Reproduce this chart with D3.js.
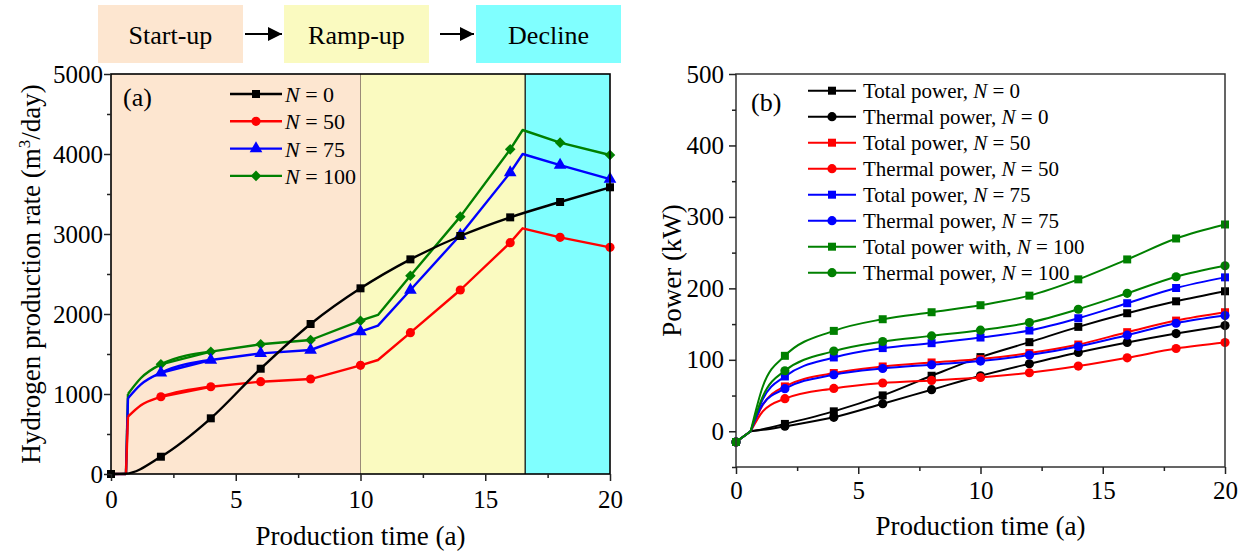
<!DOCTYPE html>
<html>
<head>
<meta charset="utf-8">
<script src="https://cdn.jsdelivr.net/npm/d3@7"></script>
<style>
  body { margin: 0; background: #fff; }
  text { font-family: "Liberation Serif", "Times New Roman", serif; fill: #000; }
</style>
</head>
<body>
<div id="chart"></div>
<script>
// ---- data, panel (a): hydrogen production rate (m3/day) ----
var timeA = [0, 0.6, 0.68, 1.2, 2, 4, 6, 8, 10, 10.7, 12, 14, 16, 16.5, 18, 20];
var markTimeA = [2, 4, 6, 8, 10, 12, 14, 16, 18, 20];
var rateN0   = [0, 5, null, null, 216, 696, 1316, 1875, 2321, null, 2683, 2975, 3208, null, 3400, 3584];
var rateN50  = [0, 0, 717, 860, 966, 1091, 1154, 1187, 1358, 1425, 1767, 2300, 2892, 3071, 2958, 2833];
var rateN75  = [0, 0, 946, 1120, 1266, 1425, 1508, 1550, 1779, 1854, 2300, 2987, 3767, 4000, 3862, 3687];
var rateN100 = [0, 0, 1000, 1200, 1371, 1529, 1621, 1675, 1916, 1988, 2479, 3217, 4058, 4300, 4142, 3988];
var seriesA = ["N = 0", "N = 50", "N = 75", "N = 100"];

var phaseNames = ["Start-up", "Ramp-up", "Decline"];
var phaseEdges = [0, 10, 16.6, 20];
var phaseColors = ["#fde6d0", "#fafac0", "#80ffff"];

// ---- data, panel (b): power (kW) ----
var timeB = [0, 0.6, 1.1, 2, 4, 6, 8, 10, 12, 14, 16, 18, 20];
var markTimeB = [0, 2, 4, 6, 8, 10, 12, 14, 16, 18, 20];
var totalN0     = [-15, 0, 3, 10.3, 27.9, 50.2, 77.7, 103.8, 124.7, 146.1, 165.2, 181.9, 195.9];
var thermalN0   = [-15, 0, 2, 7, 19.5, 38.6, 58.2, 77.7, 94.5, 110.3, 124.2, 136.7, 147.9];
var totalN50    = [-15, 0, 37, 62.8, 81.5, 90.7, 96.3, 101, 109.4, 121.4, 138.7, 154.9, 166.6];
var thermalN50  = [-15, 0, 28, 45.6, 60, 67.5, 71.2, 75.3, 81.9, 91.2, 102.8, 115.8, 124.2];
var totalN75    = [-15, 0, 45, 76.7, 103.3, 116.4, 123.3, 131.2, 141, 158.2, 179.2, 200.5, 215.4];
var thermalN75  = [-15, 0, 38, 59.6, 79.1, 87.9, 93.1, 98.2, 106.6, 118.6, 134.5, 151.2, 161.9];
var totalN100   = [-15, 0, 63, 105.6, 140.5, 156.8, 166.6, 176.4, 189.8, 212.6, 240.5, 269.8, 289.4];
var thermalN100 = [-15, 0, 49, 84.7, 112.2, 125.6, 133.5, 141.5, 152.1, 170.8, 193.1, 216.3, 231.6];
var labelsB = ["Total power, ", "Thermal power, ", "Total power, ", "Thermal power, ",
               "Total power, ", "Thermal power, ", "Total power with, ", "Thermal power, "];
var nB = ["0", "0", "50", "50", "75", "75", "100", "100"];

var serif = '"Liberation Serif", "Times New Roman", serif';

var svg = d3.select("#chart")
  .append("svg")
    .attr("width", 1244)
    .attr("height", 559)
    .style("background", "#fff");

// helper: pair up a time array with a value array, drop gaps
function pairs(times, vals) {
  var out = [];
  times.forEach(function(t, i) {
    if (vals[i] != null) out.push([t, vals[i]]);
  });
  return out;
}

function symbolPath(kind) {
  if (kind == "square") return d3.symbol().type(d3.symbolSquare).size(64)();
  if (kind == "circle") return d3.symbol().type(d3.symbolCircle).size(66)();
  if (kind == "triangle") return d3.symbol().type(d3.symbolTriangle).size(70)();
  return d3.symbol().type(d3.symbolSquare).size(56)();   // diamond = rotated square
}

function drawAxes(g, x, y, xMajor, xMinor, yMajor, yMinor, bottom, left, padX, padY) {
  g.append("g")
    .attr("transform", "translate(0," + bottom + ")")
    .call(d3.axisBottom(x).tickValues(xMajor).tickSize(7).tickPadding(padX).tickFormat(d3.format("d")));
  g.append("g")
    .attr("transform", "translate(0," + bottom + ")")
    .call(d3.axisBottom(x).tickValues(xMinor).tickSize(4).tickFormat(""));
  g.append("g")
    .attr("transform", "translate(" + left + ",0)")
    .call(d3.axisLeft(y).tickValues(yMajor).tickSize(7).tickPadding(padY).tickFormat(d3.format("d")));
  g.append("g")
    .attr("transform", "translate(" + left + ",0)")
    .call(d3.axisLeft(y).tickValues(yMinor).tickSize(4).tickFormat(""));
  g.selectAll(".domain").remove();
  g.selectAll(".tick line").attr("stroke", "#222").attr("stroke-width", 1.5);
  g.selectAll(".tick text").attr("font-family", serif).attr("font-size", 25).attr("fill", "#000");
}

// ================= panel (a) =================
var xA = d3.scaleLinear().domain([0, 20]).range([111, 610]);
var yA = d3.scaleLinear().domain([0, 5000]).range([474, 74]);
var gA = svg.append("g");

// phase backgrounds
phaseNames.forEach(function(p, i) {
  gA.append("rect")
    .attr("x", xA(phaseEdges[i]))
    .attr("y", yA(5000))
    .attr("width", xA(phaseEdges[i + 1]) - xA(phaseEdges[i]))
    .attr("height", yA(0) - yA(5000))
    .attr("fill", phaseColors[i]);
});
gA.append("line")
  .attr("x1", xA(phaseEdges[1])).attr("x2", xA(phaseEdges[1]))
  .attr("y1", yA(0)).attr("y2", yA(5000))
  .attr("stroke", "#9a8a78").attr("stroke-width", 1);
gA.append("line")
  .attr("x1", xA(phaseEdges[2])).attr("x2", xA(phaseEdges[2]))
  .attr("y1", yA(0)).attr("y2", yA(5000))
  .attr("stroke", "#000").attr("stroke-width", 1.2);

// phase header boxes with arrows
var boxX = [98, 284, 476], boxW = 145;
phaseNames.forEach(function(p, i) {
  svg.append("rect")
    .attr("x", boxX[i]).attr("y", 5)
    .attr("width", boxW).attr("height", 58)
    .attr("fill", phaseColors[i]);
  svg.append("text")
    .attr("x", boxX[i] + boxW / 2).attr("y", 44)
    .attr("text-anchor", "middle")
    .attr("font-size", 26)
    .text(p);
});
svg.append("defs").append("marker")
    .attr("id", "arrowhead")
    .attr("viewBox", "0 0 10 10")
    .attr("refX", 10).attr("refY", 5)
    .attr("markerWidth", 14).attr("markerHeight", 14)
    .attr("markerUnits", "userSpaceOnUse")
    .attr("orient", "auto")
  .append("path")
    .attr("d", "M0,0 L10,5 L0,10 z")
    .attr("fill", "#000");
[[245, 282], [440, 474]].forEach(function(a) {
  svg.append("line")
    .attr("x1", a[0]).attr("x2", a[1])
    .attr("y1", 34).attr("y2", 34)
    .attr("stroke", "#000").attr("stroke-width", 1.8)
    .attr("marker-end", "url(#arrowhead)");
});

// curves
var colorsA = ["#000000", "#ff0000", "#0000ff", "#008000"];
var shapesA = ["square", "circle", "triangle", "diamond"];
var valsA = [rateN0, rateN50, rateN75, rateN100];
var lineA = d3.line()
  .x(function(d) { return xA(d[0]); })
  .y(function(d) { return yA(d[1]); })
  .curve(d3.curveMonotoneX);
var lineAlin = d3.line()
  .x(function(d) { return xA(d[0]); })
  .y(function(d) { return yA(d[1]); });

// draw colored ones first, black on top
[3, 2, 1, 0].forEach(function(k) {
  var pts = pairs(timeA, valsA[k]);
  if (k == 0) {
    gA.append("path").datum(pts)
      .attr("fill", "none").attr("stroke", colorsA[k]).attr("stroke-width", 2.4)
      .attr("d", lineA);
  } else {
    // flat start, steep smooth rise up to t=2, then straight segments
    var head = pts.filter(function(d) { return d[0] <= 0.6; });
    var rise = pts.filter(function(d) { return d[0] >= 0.6 && d[0] <= 4; });
    var tail = pts.filter(function(d) { return d[0] >= 2; });
    [[head, lineAlin], [rise.slice(1), lineA], [tail, lineAlin]].forEach(function(p) {
      gA.append("path").datum(p[0])
        .attr("fill", "none").attr("stroke", colorsA[k]).attr("stroke-width", 2.4)
        .attr("stroke-linejoin", "round")
        .attr("d", p[1]);
    });
    gA.append("path").datum(rise.slice(0, 2))
      .attr("fill", "none").attr("stroke", colorsA[k]).attr("stroke-width", 2.4)
      .attr("d", lineAlin);
  }
  var mt = k == 0 ? [0].concat(markTimeA) : markTimeA;
  gA.selectAll(null)
    .data(mt)
    .enter().append("path")
      .attr("d", symbolPath(shapesA[k]))
      .attr("transform", function(t) {
        var v = valsA[k][timeA.indexOf(t)];
        return "translate(" + xA(t) + "," + yA(v) + ")" + (shapesA[k] == "diamond" ? " rotate(45)" : "");
      })
      .attr("fill", colorsA[k]);
});

// frame
gA.append("rect")
  .attr("x", xA(0)).attr("y", yA(5000))
  .attr("width", xA(20) - xA(0)).attr("height", yA(0) - yA(5000))
  .attr("fill", "none").attr("stroke", "#000").attr("stroke-width", 1.6);

drawAxes(gA, xA, yA, [0, 5, 10, 15, 20], [2.5, 7.5, 12.5, 17.5],
         [0, 1000, 2000, 3000, 4000, 5000], [500, 1500, 2500, 3500, 4500],
         yA(0), xA(0), 9, 1);

// legend (a)
seriesA.forEach(function(s, i) {
  var ly = 94 + i * 27.3;
  gA.append("line")
    .attr("x1", 230).attr("x2", 282).attr("y1", ly).attr("y2", ly)
    .attr("stroke", colorsA[i]).attr("stroke-width", 2.4);
  gA.append("path")
    .attr("d", symbolPath(shapesA[i]))
    .attr("transform", "translate(256," + ly + ")" + (shapesA[i] == "diamond" ? " rotate(45)" : ""))
    .attr("fill", colorsA[i]);
  var t = gA.append("text").attr("x", 285).attr("y", ly + 8).attr("font-size", 22);
  t.append("tspan").attr("font-style", "italic").text("N");
  t.append("tspan").text(s.slice(1));
});
gA.append("text").attr("x", 123).attr("y", 106).attr("font-size", 26).text("(a)");

// axis titles (a)
svg.append("text")
  .attr("x", (xA(0) + xA(20)) / 2).attr("y", 545)
  .attr("text-anchor", "middle").attr("font-size", 27)
  .text("Production time (a)");
var tyA = svg.append("text")
  .attr("transform", "translate(40," + (yA(0) + yA(5000)) / 2 + ") rotate(-90)")
  .attr("text-anchor", "middle").attr("font-size", 27);
tyA.append("tspan").text("Hydrogen production rate (m");
tyA.append("tspan").attr("font-size", 17).attr("dy", -10).text("3");
tyA.append("tspan").attr("dy", 10).text("/day)");

// ================= panel (b) =================
var xB = d3.scaleLinear().domain([0, 20]).range([736, 1225]);
var yB = d3.scaleLinear().domain([-50, 500]).range([467, 74]);
var gB = svg.append("g");

var valsB = [totalN0, thermalN0, totalN50, thermalN50, totalN75, thermalN75, totalN100, thermalN100];
var colorsB = ["#000000", "#000000", "#ff0000", "#ff0000", "#0000ff", "#0000ff", "#008000", "#008000"];
var lineB = d3.line()
  .x(function(d) { return xB(d[0]); })
  .y(function(d) { return yB(d[1]); })
  .curve(d3.curveMonotoneX);
var lineBlin = d3.line()
  .x(function(d) { return xB(d[0]); })
  .y(function(d) { return yB(d[1]); });

valsB.forEach(function(vals, k) {
  var shape = k % 2 == 0 ? "square" : "circle";
  var pts = pairs(timeB, vals);
  // short straight piece to the knee at t = 0.6, smooth curve after it
  gB.append("path")
    .datum(pts.filter(function(d) { return d[0] <= 0.6; }))
    .attr("fill", "none").attr("stroke", colorsB[k]).attr("stroke-width", 2)
    .attr("d", lineBlin);
  gB.append("path")
    .datum(pts.filter(function(d) { return d[0] >= 0.6; }))
    .attr("fill", "none").attr("stroke", colorsB[k]).attr("stroke-width", 2)
    .attr("d", lineB);
  gB.selectAll(null)
    .data(markTimeB)
    .enter().append("path")
      .attr("d", symbolPath(shape))
      .attr("transform", function(t) {
        return "translate(" + xB(t) + "," + yB(vals[timeB.indexOf(t)]) + ")";
      })
      .attr("fill", colorsB[k]);
});

gB.append("rect")
  .attr("x", xB(0)).attr("y", yB(500))
  .attr("width", xB(20) - xB(0)).attr("height", yB(-50) - yB(500))
  .attr("fill", "none").attr("stroke", "#333").attr("stroke-width", 1.5);

drawAxes(gB, xB, yB, [0, 5, 10, 15, 20], [2.5, 7.5, 12.5, 17.5],
         [0, 100, 200, 300, 400, 500], [-50, 50, 150, 250, 350, 450],
         yB(-50), xB(0), 7, 5);

// legend (b)
labelsB.forEach(function(s, i) {
  var ly = 90.7 + i * 26;
  var shape = i % 2 == 0 ? "square" : "circle";
  gB.append("line")
    .attr("x1", 808).attr("x2", 856).attr("y1", ly).attr("y2", ly)
    .attr("stroke", colorsB[i]).attr("stroke-width", 2);
  gB.append("path")
    .attr("d", symbolPath(shape))
    .attr("transform", "translate(832," + ly + ")")
    .attr("fill", colorsB[i]);
  var t = gB.append("text").attr("x", 863).attr("y", ly + 7).attr("font-size", 21);
  t.append("tspan").text(s);
  t.append("tspan").attr("font-style", "italic").text("N");
  t.append("tspan").text(" = " + nB[i]);
});
gB.append("text").attr("x", 751).attr("y", 111).attr("font-size", 26).text("(b)");

svg.append("text")
  .attr("x", (xB(0) + xB(20)) / 2).attr("y", 535)
  .attr("text-anchor", "middle").attr("font-size", 27)
  .text("Production time (a)");
svg.append("text")
  .attr("transform", "translate(681," + (yB(-50) + yB(500)) / 2 + ") rotate(-90)")
  .attr("text-anchor", "middle").attr("font-size", 27)
  .text("Power (kW)");
</script>
</body>
</html>
